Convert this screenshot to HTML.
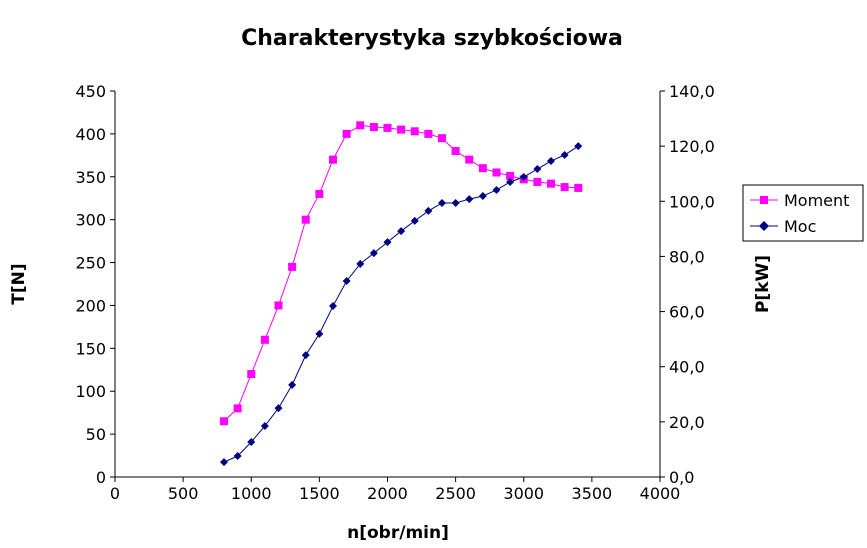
<!DOCTYPE html>
<html><head><meta charset="utf-8"><style>
html,body{margin:0;padding:0;background:#fff;}
svg{display:block;font-family:"DejaVu Sans","Liberation Sans",sans-serif;}
</style></head><body>
<svg id="chart" width="867" height="548">
<text x="432" y="45" text-anchor="middle" font-size="22" font-weight="bold">Charakterystyka szybkościowa</text>
<text x="398" y="538" text-anchor="middle" font-size="17" font-weight="bold">n[obr/min]</text>
<text transform="translate(24,284) rotate(-90)" text-anchor="middle" font-size="17" font-weight="bold">T[N]</text>
<text transform="translate(768,284) rotate(-90)" text-anchor="middle" font-size="17" font-weight="bold">P[kW]</text>
<g id="axes"></g><g id="series"></g>
<g>
<rect x="743" y="185" width="120" height="56" fill="#fff" stroke="#000"/>
<g>
<line x1="750" y1="200" x2="778" y2="200" stroke="#ff00ff"/><rect x="760" y="196" width="8" height="8" fill="#ff00ff"/>
<text x="784" y="206" font-size="16">Moment</text></g>
<g>
<line x1="750" y1="226" x2="778" y2="226" stroke="#000080"/><path d="M764 221 L769 226 L764 231 L759 226Z" fill="#000080"/>
<text x="784" y="232" font-size="16">Moc</text></g>
</g>
</svg>
<script>
const rpm=[800,900,1000,1100,1200,1300,1400,1500,1600,1700,1800,1900,2000,2100,2200,2300,2400,2500,2600,2700,2800,2900,3000,3100,3200,3300,3400];
const moment=[65,80,120,160,200,245,300,330,370,400,410,408,407,405,403,400,395,380,370,360,355,351,347,344,342,338,337];
const moc=[5.4,7.6,12.7,18.5,25,33.4,44.2,51.9,62,71.1,77.3,81.2,85.2,89.2,92.9,96.5,99.4,99.4,100.8,101.9,104.1,107,108.8,111.7,114.6,116.8,120];
const xTicks=[0,500,1000,1500,2000,2500,3000,3500,4000];
const yLeftTicks=[0,50,100,150,200,250,300,350,400,450];
const yRightTicks=["0,0","20,0","40,0","60,0","80,0","100,0","120,0","140,0"];
const X0=115,X1=660,Y0=477,Y1=91;
const xs=v=>X0+(v/4000)*(X1-X0);
const yl=v=>Y0-(v/450)*(Y0-Y1);
const yr=v=>Y0-(v/140)*(Y0-Y1);
const NS="http://www.w3.org/2000/svg";
function mk(tag,attrs,parent){const e=document.createElementNS(NS,tag);for(const k in attrs)e.setAttribute(k,attrs[k]);parent.appendChild(e);return e;}
const ax=document.getElementById('axes');
let l=mk('line',{x1:X0,y1:Y0,x2:X1,y2:Y0,stroke:'#000'},ax);


l=mk('line',{x1:X0,y1:Y0,x2:X0,y2:Y1,stroke:'#000'},ax);


l=mk('line',{x1:X1,y1:Y0,x2:X1,y2:Y1,stroke:'#000'},ax);


xTicks.forEach(v=>{mk('line',{x1:xs(v),y1:Y0,x2:xs(v),y2:Y0+5,stroke:'#000'},ax);
 const t=mk('text',{x:xs(v),y:Y0+22,'text-anchor':'middle','font-size':16},ax);t.textContent=v;
 
 });
yLeftTicks.forEach(v=>{mk('line',{x1:X0-5,y1:yl(v),x2:X0,y2:yl(v),stroke:'#000'},ax);
 const t=mk('text',{x:X0-9,y:yl(v)+6,'text-anchor':'end','font-size':16},ax);t.textContent=v;
 
 });
yRightTicks.forEach((s,i)=>{const v=i*20;mk('line',{x1:X1,y1:yr(v),x2:X1+5,y2:yr(v),stroke:'#000'},ax);
 const t=mk('text',{x:X1+9,y:yr(v)+6,'font-size':16},ax);t.textContent=s;
 
 });
const sg=document.getElementById('series');
let p=mk('polyline',{points:rpm.map((r,i)=>xs(r)+','+yl(moment[i])).join(' '),fill:'none',stroke:'#ff00ff'},sg);


p=mk('polyline',{points:rpm.map((r,i)=>xs(r)+','+yr(moc[i])).join(' '),fill:'none',stroke:'#000080'},sg);


rpm.forEach((r,i)=>{const x=xs(r),y=yl(moment[i]);
 const m=mk('rect',{x:x-4,y:y-4,width:8,height:8,fill:'#ff00ff'},sg);
 
 
 const y2=yr(moc[i]);
 const d=mk('path',{d:`M${x} ${y2-4} L${x+4} ${y2} L${x} ${y2+4} L${x-4} ${y2}Z`,fill:'#000080'},sg);
 
 });
</script>
</body></html>
